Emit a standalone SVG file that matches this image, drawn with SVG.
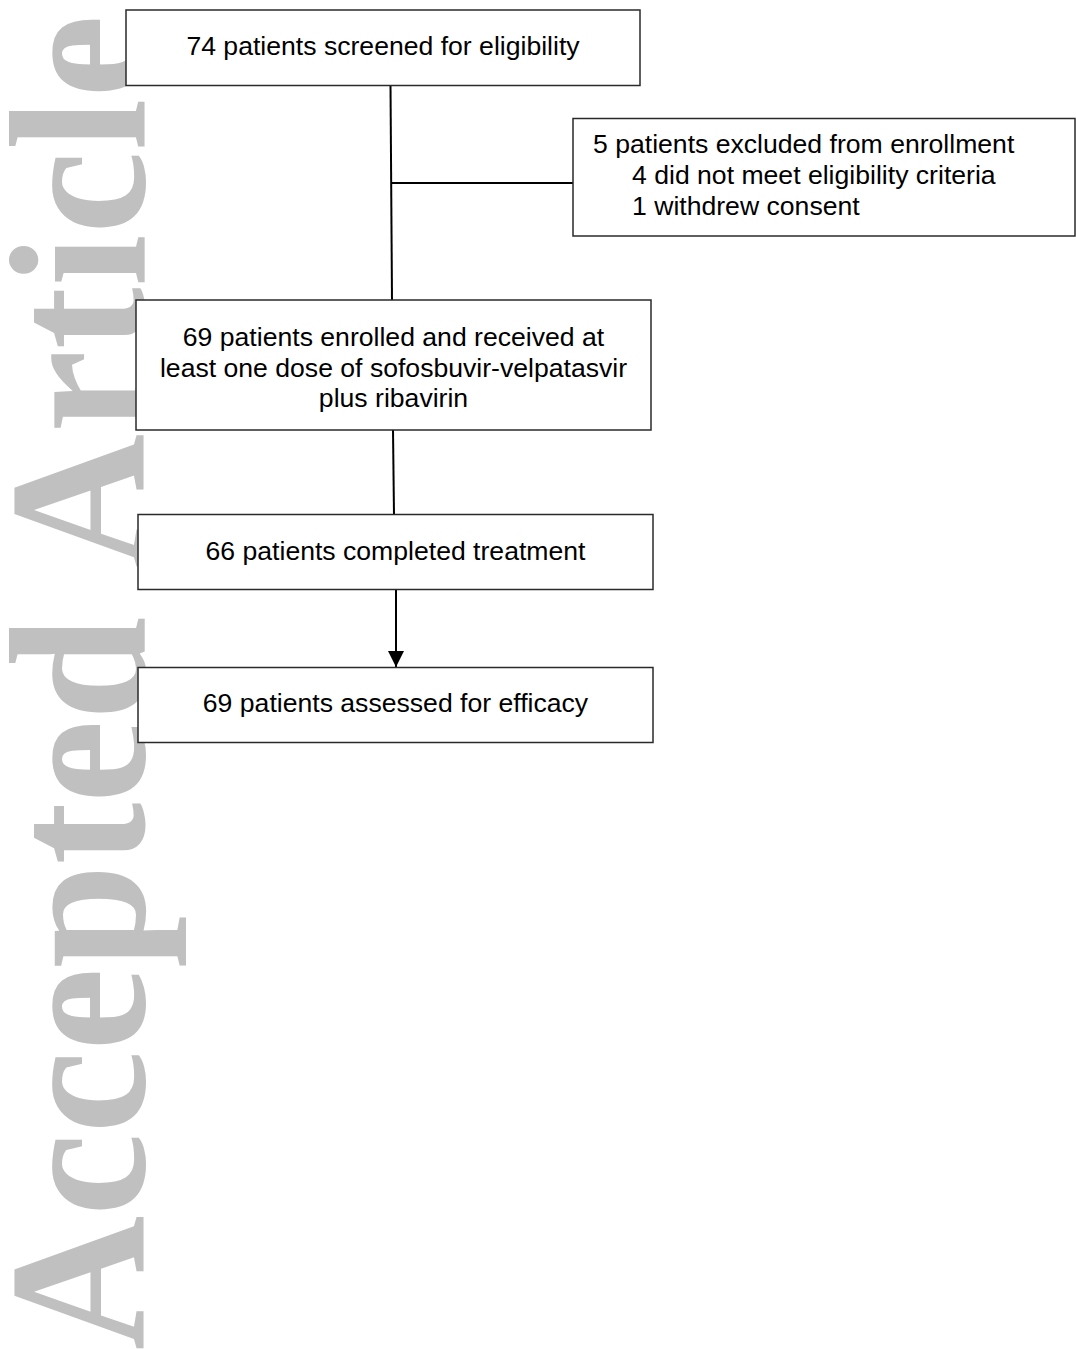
<svg xmlns="http://www.w3.org/2000/svg" width="1076" height="1349" viewBox="0 0 1076 1349">
  <style>
    .box { fill: #ffffff; stroke: #2a2a2a; stroke-width: 1.5; }
    .lbl { font-family: "Liberation Sans", Arial, sans-serif; font-size: 26.6px; fill: #000000; }
    .mid { text-anchor: middle; }
    .wm { font-family: "Liberation Serif", "Times New Roman", serif; font-weight: bold; font-size: 186px; fill: #c0c0c0; }
    .conn { stroke: #000000; stroke-width: 2; fill: none; }
  </style>
  <defs>
    <marker id="arrow" viewBox="0 0 16 16" refX="16" refY="8" markerWidth="16" markerHeight="16" markerUnits="userSpaceOnUse" orient="auto">
      <path d="M0,0 L16,8 L0,16 Z" fill="#000000"/>
    </marker>
  </defs>
  <rect x="0" y="0" width="1076" height="1349" fill="#ffffff"/>
  <g id="watermark">
    <text class="wm" transform="translate(144,1350) rotate(-90) scale(1,1.045)" x="0" y="0">Accepted <tspan dx="2" letter-spacing="1">Article</tspan></text>
  </g>
  <g id="connectors">
    <line class="conn" x1="390.5" y1="85" x2="392" y2="300"/>
    <line class="conn" x1="391" y1="183" x2="573" y2="183"/>
    <line class="conn" x1="393" y1="430" x2="394" y2="515"/>
    <line class="conn" x1="396" y1="590" x2="396" y2="667" marker-end="url(#arrow)"/>
  </g>
  <g id="screened">
    <rect class="box" x="126" y="10" width="514" height="75.5"/>
    <text class="lbl mid" x="383" y="55">74 patients screened for eligibility</text>
  </g>
  <g id="excluded">
    <rect class="box" x="573" y="118.5" width="502" height="117.5"/>
    <text class="lbl" x="593" y="153">5 patients excluded from enrollment</text>
    <text class="lbl" x="632" y="184">4 did not meet eligibility criteria</text>
    <text class="lbl" x="632" y="215">1 withdrew consent</text>
  </g>
  <g id="enrolled">
    <rect class="box" x="136" y="300" width="515" height="130"/>
    <text class="lbl mid" x="393.5" y="346">69 patients enrolled and received at</text>
    <text class="lbl mid" x="393.5" y="377">least one dose of sofosbuvir-velpatasvir</text>
    <text class="lbl mid" x="393.5" y="407">plus ribavirin</text>
  </g>
  <g id="completed">
    <rect class="box" x="138" y="514.5" width="515" height="75"/>
    <text class="lbl mid" x="395.5" y="560">66 patients completed treatment</text>
  </g>
  <g id="assessed">
    <rect class="box" x="138" y="667.5" width="515" height="75"/>
    <text class="lbl mid" x="395.5" y="712">69 patients assessed for efficacy</text>
  </g>
</svg>
